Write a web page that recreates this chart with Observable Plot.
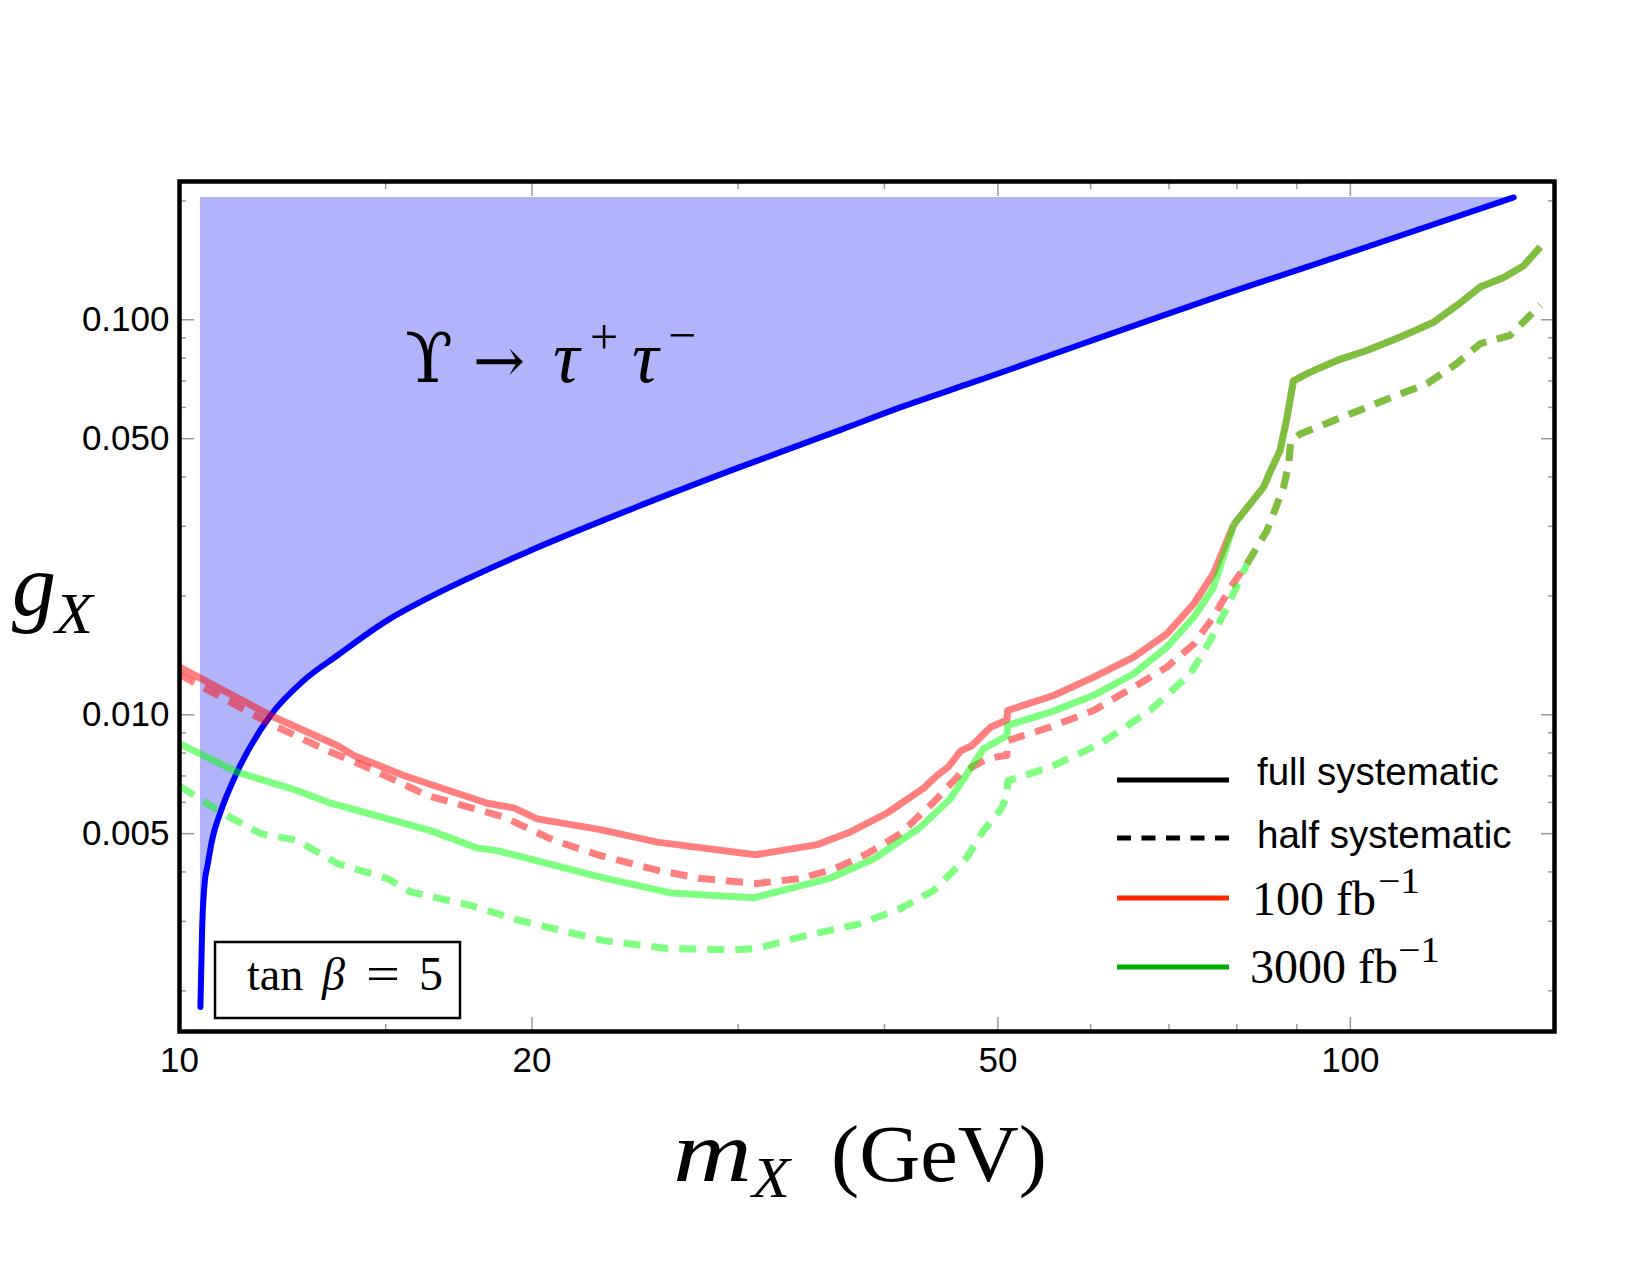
<!DOCTYPE html>
<html><head><meta charset="utf-8">
<script src="https://cdn.jsdelivr.net/npm/d3@7"></script>
<script src="https://cdn.jsdelivr.net/npm/@observablehq/plot@0.6"></script>
<style>
html,body{margin:0;padding:0;background:#fff;}
#chart svg{display:block;}
</style></head><body><div id="chart"></div>
<script>
// ---------- data (m_X in GeV, g_X) ----------
const upsilonBound = [[10.42,0.00182],[10.456,0.0029],[10.52,0.00388],[10.56,0.00411],[10.66,0.00481],[10.84,0.00567],[11.2,0.00716],[11.96,0.00996],[12.77,0.01222],[13.64,0.01413],[15.05,0.01734],[16.17,0.0195],[19.79,0.0258],[24.34,0.0332],[29.94,0.0421],[36.8,0.0528],[41.27,0.06],[47.64,0.0695],[82.1,0.122],[100,0.148],[137.9,0.204]];
const upsilonTop = 0.204;

const red100Full = [[10,0.0132],[11.96,0.00996],[13.64,0.00836],[14.09,0.00789],[15.54,0.00702],[18.32,0.00597],[19.3,0.00581],[20.21,0.00545],[22.88,0.00512],[25.58,0.00476],[31.04,0.00442],[35.04,0.00469],[37.41,0.00505],[40.21,0.00564],[43.21,0.00652],[44.36,0.00702],[45.4,0.0074],[46.45,0.00809],[47.53,0.00836],[49.28,0.0093],[50.9,0.0097],[50.97,0.01025],[55.79,0.01119],[60.37,0.01245],[65.3,0.014],[69.7,0.01603],[73.5,0.0191],[76.4,0.0228],[79.5,0.0303]];
const green3000Full = [[10,0.00845],[11.2,0.00716],[12.6,0.00643],[13.46,0.00597],[16.38,0.00509],[17.96,0.0046],[18.67,0.00453],[22.88,0.00388],[26.27,0.00354],[30.94,0.00344],[35.97,0.00386],[39.18,0.00432],[42.93,0.00519],[45.53,0.00613],[47.06,0.0071],[48.6,0.0082],[50.9,0.00885],[50.97,0.0094],[55.43,0.01015],[60.37,0.0112],[65.3,0.0127],[69.7,0.01483],[73.5,0.01766],[76.4,0.021],[79.5,0.0303]];
const fullSysTail = [[79.5,0.0303],[84.3,0.0377],[85.5,0.0415],[87.1,0.0467],[88.3,0.0567],[89.4,0.07],[92.4,0.0737],[97.4,0.0789],[103.3,0.0836],[110.3,0.0904],[117.8,0.0986],[123.3,0.1087],[129.1,0.121],[135.2,0.128],[140.6,0.137],[145.3,0.153]];

const red100Half = [[10,0.01265],[11.96,0.00948],[13.37,0.00812],[14.56,0.0073],[16.27,0.00625],[18.92,0.00551],[20.87,0.00481],[22.88,0.0044],[25.58,0.00404],[27.88,0.00385],[31.13,0.00374],[33.91,0.00385],[36.23,0.00407],[38.67,0.00445],[41.27,0.005],[44.07,0.00601],[46.45,0.0071],[48.96,0.00774],[50.9,0.0079],[50.97,0.0086],[55.4,0.0093],[60.37,0.01026],[65.3,0.01175],[69.7,0.0132],[73.5,0.0151],[76.4,0.0177],[79,0.021],[81.6,0.0241]];
const green3000Half = [[10,0.0066],[10.84,0.00567],[11.73,0.005],[12.6,0.00481],[13.64,0.0042],[15.05,0.00385],[15.75,0.00356],[17.73,0.00329],[19.55,0.00301],[23.03,0.00268],[26.08,0.00256],[29.74,0.00254],[31.13,0.00256],[33.91,0.00274],[38.16,0.00296],[41.27,0.00323],[44.07,0.00359],[47.06,0.00436],[48.6,0.00509],[50.23,0.00573],[50.9,0.0062],[50.97,0.0068],[55.43,0.00737],[61.15,0.00845],[67.47,0.01026],[73,0.0127],[75.9,0.0154],[78.5,0.01873],[81.6,0.0241]];
const halfSysTail = [[81.6,0.0241],[84.9,0.0293],[87.7,0.0377],[88.6,0.0432],[88.9,0.049],[90.6,0.0514],[96.8,0.0556],[106.8,0.0625],[116.3,0.0689],[123.3,0.0775],[129.1,0.087],[136.9,0.0913],[145.3,0.109]];

const xMajorTicks = [10, 20, 50, 100];
const xMinorTicks = [15, 30, 40, 60, 70, 80, 90];
const yMajorTicks = [0.005, 0.01, 0.05, 0.1];
const yMinorTicks = [0.002, 0.003, 0.004, 0.006, 0.007, 0.008, 0.009, 0.02, 0.03, 0.04, 0.06, 0.07, 0.08, 0.09, 0.2];

const legendItems = ["full systematic", "half systematic", "100 fb", "3000 fb"];
const annotationText = "tan β = 5";

// ---------- layout ----------
const W = 1650, H = 1275, mL = 179, mR = 96, mT = 181, mB = 244;
const serif = "'Liberation Serif','DejaVu Serif','Times New Roman',serif";
const sans = "'Liberation Sans',Arial,Helvetica,sans-serif";
const RED = "#ff0000", GREEN = "#00ff00";
const mx = d => d[0], gy = d => d[1];
const solid = (data, stroke) => Plot.line(data, {x: mx, y: gy, stroke, strokeOpacity: 0.5, strokeWidth: 7, strokeLinecap: "butt"});
const dashed = (data, stroke) => Plot.line(data, {x: mx, y: gy, stroke, strokeOpacity: 0.5, strokeWidth: 7, strokeLinecap: "butt", strokeDasharray: "17,11"});
const blank = () => "";
const tickStyle = {stroke: "#999", fill: "black", strokeWidth: 1.5, label: null};

const chart = Plot.plot({
  width: W, height: H,
  marginLeft: mL, marginRight: mR, marginTop: mT, marginBottom: mB,
  style: {background: "white", fontFamily: sans, fontSize: "35px", color: "black"},
  x: {type: "log", domain: [10, 149.4], label: null},
  y: {type: "log", domain: [0.001578, 0.2239], label: null},
  marks: [
    Plot.areaY(upsilonBound, {x: mx, y1: gy, y2: upsilonTop, fill: "#b1b4fb", curve: "monotone-x"}),
    Plot.line(upsilonBound, {x: mx, y: gy, stroke: "#0000ff", strokeWidth: 6, curve: "monotone-x"}),
    solid(red100Full, RED), solid(fullSysTail, RED),
    dashed(red100Half, RED), dashed(halfSysTail, RED),
    solid(green3000Full, GREEN), solid(fullSysTail, GREEN),
    dashed(green3000Half, GREEN), dashed(halfSysTail, GREEN),
    Plot.axisX({anchor: "bottom", ticks: xMajorTicks, tickFormat: d3.format("d"), tickSize: -14, tickPadding: 30, ...tickStyle}),
    Plot.axisX({anchor: "bottom", ticks: xMinorTicks, tickFormat: blank, tickSize: -7, ...tickStyle}),
    Plot.axisX({anchor: "top", ticks: xMajorTicks, tickFormat: blank, tickSize: -14, ...tickStyle}),
    Plot.axisX({anchor: "top", ticks: xMinorTicks, tickFormat: blank, tickSize: -7, ...tickStyle}),
    Plot.axisY({anchor: "left", ticks: yMajorTicks, tickFormat: d3.format(".3f"), tickSize: -15, tickPadding: 25, ...tickStyle}),
    Plot.axisY({anchor: "left", ticks: yMinorTicks, tickFormat: blank, tickSize: -7, ...tickStyle}),
    Plot.axisY({anchor: "right", ticks: yMajorTicks, tickFormat: blank, tickSize: -14, ...tickStyle}),
    Plot.axisY({anchor: "right", ticks: yMinorTicks, tickFormat: blank, tickSize: -7, ...tickStyle}),
    Plot.frame({stroke: "black", strokeWidth: 4.5})
  ]
});
document.getElementById("chart").appendChild(chart);

// ---------- scale helpers ----------
let sx, sy;
try {
  const a = chart.scale("x"), b = chart.scale("y");
  sx = v => a.apply(v); sy = v => b.apply(v);
  if (!isFinite(sx(10)) || !isFinite(sy(0.01))) throw 0;
} catch (e) {
  const a = d3.scaleLog([10, 149.4], [mL, W - mR]), b = d3.scaleLog([0.001578, 0.2239], [H - mB, mT]);
  sx = a; sy = b;
}
const fr = W - mR, fb = H - mB, fl = mL;
const svg = d3.select(chart);
const txt = (x, y, s, size, family, italic, len) => {
  const t = svg.append("text").attr("x", x).attr("y", y)
    .attr("text-anchor", "start")
    .attr("font-family", family).attr("font-size", size).attr("font-style", italic ? "italic" : "normal")
    .attr("fill", "black").text(s);
  if (len) t.attr("textLength", len).attr("lengthAdjust", "spacingAndGlyphs");
  return t;
};

// axis titles
txt(12, 615, "g", 88, serif, true, 44);
txt(55, 633, "X", 56, serif, true, 38);
txt(673, 1181, "m", 86, serif, true, 79);
txt(752, 1197, "X", 56, serif, true, 38);
txt(831, 1181, "(GeV)", 80, serif, false, 216);

// Upsilon annotation anchored at data position
const ax = sx(15.6), ay = sy(0.0694);
txt(ax, ay, "ϒ", 70, "'DejaVu Serif','Liberation Serif',serif", false);
txt(ax + 68, ay, "→", 62, "'DejaVu Serif',serif", false);
txt(ax + 148, ay, "τ", 74, serif, true);
txt(ax + 185, ay - 28, "+", 50, serif, false);
txt(ax + 227, ay, "τ", 74, serif, true);
txt(ax + 263, ay - 30, "−", 50, serif, false);

// legend (inside frame, lower right)
const lx1 = fr - 437, lx2 = fr - 325;
const rows = [fb - 251, fb - 193, fb - 133, fb - 64];
svg.append("line").attr("x1", lx1).attr("x2", lx2).attr("y1", rows[0]).attr("y2", rows[0]).attr("stroke", "black").attr("stroke-width", 5);
svg.append("line").attr("x1", lx1).attr("x2", lx2).attr("y1", rows[1]).attr("y2", rows[1]).attr("stroke", "black").attr("stroke-width", 5).attr("stroke-dasharray", "14,10.5");
svg.append("line").attr("x1", lx1).attr("x2", lx2).attr("y1", rows[2]).attr("y2", rows[2]).attr("stroke", "#ff2a00").attr("stroke-width", 5);
svg.append("line").attr("x1", lx1).attr("x2", lx2).attr("y1", rows[3]).attr("y2", rows[3]).attr("stroke", "#00ad00").attr("stroke-width", 5);
txt(fr - 297, rows[0] + 5, legendItems[0], 38.5, sans, false);
txt(fr - 297, rows[1] + 10, legendItems[1], 38.5, sans, false);
txt(fr - 302, rows[2] + 17, legendItems[2], 48, serif, false);
txt(fr - 176, rows[2] - 5, "−1", 36, serif, false, 42);
txt(fr - 304, rows[3] + 16, legendItems[3], 48, serif, false);
txt(fr - 156, rows[3] - 5, "−1", 36, serif, false, 42);

// tan beta box
svg.append("rect").attr("x", fl + 36).attr("y", fb - 89).attr("width", 245).attr("height", 76)
  .attr("fill", "white").attr("stroke", "black").attr("stroke-width", 2.5);
const parts = annotationText.split(" ");
txt(fl + 68, fb - 41, parts[0], 46, serif, false);
txt(fl + 143, fb - 41, parts[1], 46, serif, true);
txt(fl + 187, fb - 41, parts[2], 48, serif, false, 34);
txt(fl + 240, fb - 41, parts[3], 48, serif, false);
</script></body></html>
